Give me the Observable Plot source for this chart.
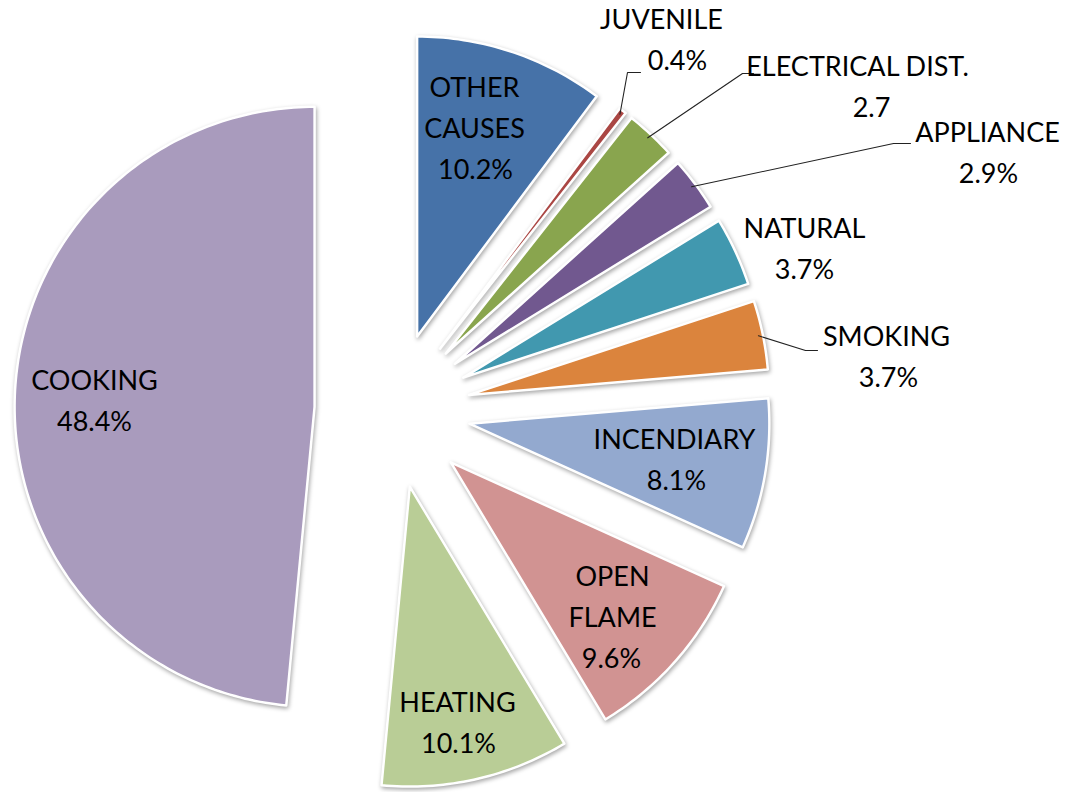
<!DOCTYPE html>
<html><head><meta charset="utf-8">
<script src="https://cdn.jsdelivr.net/npm/d3@7"></script>
<script src="https://cdn.jsdelivr.net/npm/@observablehq/plot@0.6"></script>
<style>
body{margin:0;background:#fff;}
#chart svg g[aria-label="line"]:first-of-type path{filter:drop-shadow(1px 2px 2px rgba(0,0,0,0.35));}
</style></head><body><div id="chart"></div>
<script>
// ---- data ----
const causes = ["OTHER CAUSES","JUVENILE","ELECTRICAL DIST.","APPLIANCE","NATURAL","SMOKING","INCENDIARY","OPEN FLAME","HEATING","COOKING"];
const shares = [10.2,0.4,2.7,2.9,3.7,3.7,8.1,9.6,10.1,48.4];
const valueLabels = ["10.2%","0.4%","2.7","2.9%","3.7%","3.7%","8.1%","9.6%","10.1%","48.4%"];
const nameLines = [["OTHER","CAUSES"],["JUVENILE"],["ELECTRICAL DIST."],["APPLIANCE"],["NATURAL"],["SMOKING"],["INCENDIARY"],["OPEN","FLAME"],["HEATING"],["COOKING"]];
const colors = ["#4672A8","#AA4643","#89A54E","#71588F","#4198AF","#DB843D","#93A9CF","#D19392","#B9CD96","#A99BBD"];

// ---- layout ----
const W = 1068, H = 792;
const CX = 392, CY = 410, R = 300;      // pie centre & radius in pixels
const explode = 78 / R;                 // explosion distance (radius units)
const lineStep = 41;
// [centre x of name lines, y of first line, centre x of value line] in pixels
const labelLayout = [
  [474, 88, 475], [661, 20, 677], [857, 67, 871], [987, 133, 988], [804, 229, 804],
  [886, 337, 888], [674, 440, 676], [612, 577, 611], [457, 703, 458], [94, 381, 94]
];
// leader elbow and end (pixels), null = no leader
const leaders = [null, [[627,72],[640,72]], [[742,73],[753,73]], [[893,143],[910,143]], null,
  [[805,350],[817,350]], null, null, null, null];

const ux = px => (px - CX) / R, uy = py => (CY - py) / R;

// ---- geometry from data ----
const total = d3.sum(shares);
let cum = 0;
const slices = shares.map((v, i) => {
  const a0 = cum / total * 2 * Math.PI; cum += v;
  const a1 = cum / total * 2 * Math.PI;
  const mid = (a0 + a1) / 2;
  const ox = explode * Math.sin(mid), oy = explode * Math.cos(mid);
  return {i, a0, a1, mid, ox, oy};
});
const poly = [];
for (const s of slices) {
  poly.push({name: causes[s.i], x: s.ox, y: s.oy});
  const n = Math.max(2, Math.ceil((s.a1 - s.a0) / (Math.PI / 180)));
  for (let k = 0; k <= n; k++) {
    const a = s.a0 + (s.a1 - s.a0) * k / n;
    poly.push({name: causes[s.i], x: s.ox + Math.sin(a), y: s.oy + Math.cos(a)});
  }
}
const leaderPts = [];
leaders.forEach((l, i) => {
  if (!l) return;
  const s = slices[i];
  const r0 = 0.985;
  leaderPts.push({k: i, x: s.ox + r0 * Math.sin(s.mid), y: s.oy + r0 * Math.cos(s.mid)});
  for (const p of l) leaderPts.push({k: i, x: ux(p[0]), y: uy(p[1])});
});
const texts = [];
nameLines.forEach((lines, i) => {
  const [nx, y0, vx] = labelLayout[i];
  lines.forEach((t, j) => texts.push({t, x: ux(nx), y: uy(y0 + j * lineStep)}));
  texts.push({t: valueLabels[i], x: ux(vx), y: uy(y0 + lines.length * lineStep)});
});

const chart = Plot.plot({
  width: W, height: H, margin: 0,
  x: {domain: [ux(0), ux(W)], axis: null},
  y: {domain: [uy(H), uy(0)], axis: null},
  color: {domain: causes, range: colors},
  style: {fontFamily: "Lato, 'Open Sans', sans-serif", background: "#fff"},
  marks: [
    Plot.line(poly, {x: "x", y: "y", z: "name", fill: "name", stroke: "white", strokeWidth: 2.5, curve: "linear-closed", strokeLinejoin: "round"}),
    Plot.line(leaderPts, {x: "x", y: "y", z: "k", stroke: "#222", strokeWidth: 1.1}),
    Plot.text(texts, {x: "x", y: "y", text: "t", fontSize: 27, fill: "#000", lineAnchor: "middle", textAnchor: "middle"})
  ]
});
document.getElementById("chart").appendChild(chart);
</script></body></html>
